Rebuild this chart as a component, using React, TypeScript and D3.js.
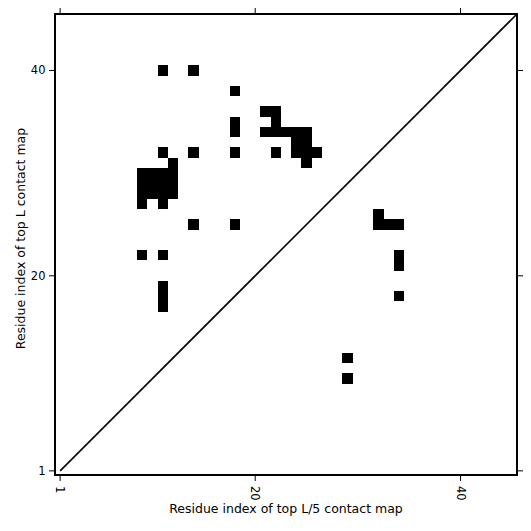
import React from "react";
import * as d3 from "d3";

const contactX = [
  11, 14,
  18,
  21, 22,
  18, 22,
  18, 21, 22, 23, 24, 25,
  24, 25,
  11, 14, 18, 22, 24, 25, 26,
  12, 25,
  9, 10, 11, 12,
  9, 10, 11, 12,
  9, 10, 11, 12,
  9, 11,
  32,
  14, 18, 32, 33, 34,
  9, 11, 34,
  34,
  11, 34, 11, 11,
  29, 29,
];
const contactY = [
  40, 40,
  38,
  36, 36,
  35, 35,
  34, 34, 34, 34, 34, 34,
  33, 33,
  32, 32, 32, 32, 32, 32, 32,
  31, 31,
  30, 30, 30, 30,
  29, 29, 29, 29,
  28, 28, 28, 28,
  27, 27,
  26,
  25, 25, 25, 25, 25,
  22, 22, 22,
  21,
  19, 18, 18, 17,
  12, 10,
];
const tickValues = [1, 20, 40];
const axisDomain = [0.5, 45.5];
const diagonal = [1, 45.5];
const xLabel = "Residue index of top L/5 contact map";
const yLabel = "Residue index of top L contact map";

const W = 531;
const H = 531;
const FONT = "DejaVu Sans, sans-serif";

export default function App() {
  const left = 55, right = 517, top = 14, bottom = 476;
  const x = d3.scaleLinear().domain(axisDomain).range([left, right]);
  const y = d3.scaleLinear().domain(axisDomain).range([bottom, top]);
  const cells = contactX.map((cx, i) => ({ cx, cy: contactY[i] }));
  const line = d3.line<number>().x((d) => x(d)).y((d) => y(d));
  const tl = 5;

  return (
    <svg
      width={W}
      height={H}
      style={{ position: "absolute", left: 0, top: 0, background: "#fff" }}
      fontFamily={FONT}
    >
      <rect x={0} y={0} width={W} height={H} fill="#fff" />
      {cells.map((c, i) => (
        <rect
          key={i}
          x={x(c.cx - 0.5)}
          y={y(c.cy + 0.5)}
          width={x(c.cx + 0.5) - x(c.cx - 0.5)}
          height={y(c.cy - 0.5) - y(c.cy + 0.5)}
          fill="#000"
          shapeRendering="crispEdges"
        />
      ))}
      <path d={line(diagonal) || ""} stroke="#000" strokeWidth={1.6} fill="none" />
      <rect
        x={left}
        y={top}
        width={right - left}
        height={bottom - top - 1}
        fill="none"
        stroke="#000"
        strokeWidth={2}
      />
      {tickValues.map((t) => (
        <g key={"x" + t}>
          <line x1={x(t)} x2={x(t)} y1={bottom} y2={bottom + tl} stroke="#000" strokeWidth={1} />
          <line x1={x(t)} x2={x(t)} y1={top - 1} y2={top - 1 - tl} stroke="#000" strokeWidth={1} />
          <text
            transform={`translate(${x(t)},${bottom + 10}) rotate(90)`}
            fontSize={11.5}
            textAnchor="start"
            dominantBaseline="central"
            fill="#000"
          >
            {t}
          </text>
        </g>
      ))}
      {tickValues.map((t) => (
        <g key={"y" + t}>
          <line x1={left - 1} x2={left - 1 - tl} y1={y(t)} y2={y(t)} stroke="#000" strokeWidth={1} />
          <line x1={right + 1} x2={right + 1 + tl} y1={y(t)} y2={y(t)} stroke="#000" strokeWidth={1} />
          <text
            x={left - 9.5}
            y={y(t)}
            fontSize={11.5}
            textAnchor="end"
            dominantBaseline="central"
            fill="#000"
          >
            {t}
          </text>
        </g>
      ))}
      <text x={(left + right) / 2} y={512.5} fontSize={12.5} textAnchor="middle" fill="#000">
        {xLabel}
      </text>
      <text
        transform={`translate(24.5,238.5) rotate(-90)`}
        fontSize={12.5}
        textAnchor="middle"
        fill="#000"
      >
        {yLabel}
      </text>
    </svg>
  );
}
